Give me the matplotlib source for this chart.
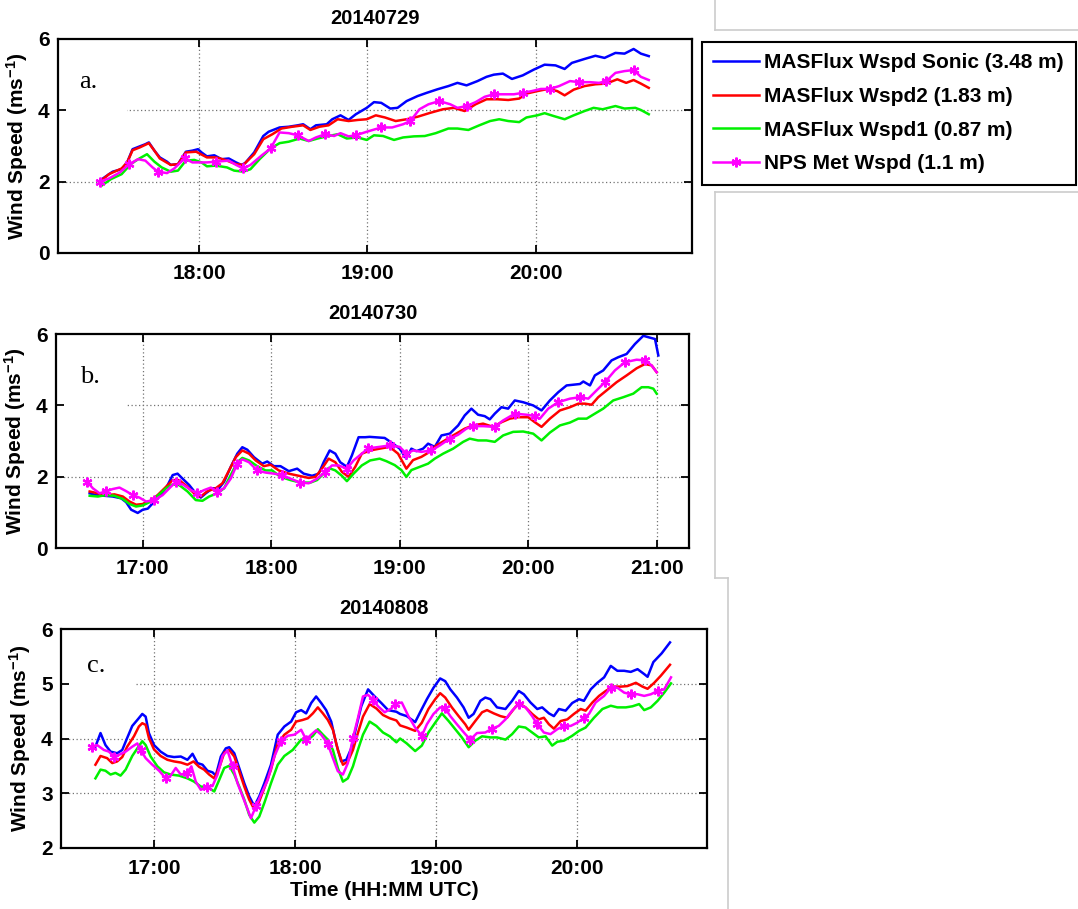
import numpy as np
import matplotlib
matplotlib.use('Agg')
import matplotlib.pyplot as plt
from matplotlib.lines import Line2D
from matplotlib.patches import Rectangle

plt.rcParams['font.family'] = ['Liberation Sans', 'DejaVu Sans']
plt.rcParams['font.weight'] = 'bold'
plt.rcParams['mathtext.fontset'] = 'custom'
plt.rcParams['mathtext.rm'] = 'Liberation Sans:bold'
plt.rcParams['mathtext.default'] = 'rm'

# ---------------- data (time in decimal hours UTC, wind speed m/s) ----------------
titles = ['20140729', '20140730', '20140808']
panel_tags = ['a.', 'b.', 'c.']
series_labels = ['MASFlux Wspd Sonic (3.48 m)', 'MASFlux Wspd2 (1.83 m)',
                 'MASFlux Wspd1 (0.87 m)', 'NPS Met Wspd (1.1 m)']

# Panel a: 20140729
a_sonic_t = [17.411,17.465,17.487,17.540,17.573,17.605,17.648,17.681,17.702,17.735,17.767,17.810,17.832,17.875,17.922,17.961,17.994,18.015,18.047,18.091,18.134,18.177,18.220,18.252,18.274,18.328,18.382,18.414,18.479,18.533,18.587,18.619,18.662,18.695,18.759,18.792,18.841,18.889,18.932,18.997,19.040,19.083,19.137,19.180,19.234,19.299,19.353,19.417,19.482,19.536,19.590,19.655,19.709,19.752,19.806,19.860,19.924,19.989,20.054,20.119,20.173,20.216,20.291,20.356,20.410,20.475,20.529,20.583,20.626,20.673]
a_sonic_v = [2.03,2.21,2.28,2.35,2.54,2.91,2.99,3.05,3.10,2.87,2.68,2.56,2.47,2.49,2.84,2.87,2.91,2.82,2.71,2.74,2.63,2.65,2.54,2.47,2.52,2.82,3.28,3.40,3.52,3.54,3.58,3.61,3.47,3.58,3.61,3.75,3.86,3.73,3.89,4.07,4.23,4.21,4.05,4.07,4.26,4.40,4.49,4.59,4.68,4.77,4.70,4.82,4.94,5.00,5.03,4.88,4.98,5.14,5.28,5.26,5.16,5.33,5.44,5.53,5.47,5.61,5.59,5.72,5.59,5.52]
a_w2_t = [17.411,17.465,17.540,17.573,17.605,17.648,17.702,17.735,17.767,17.832,17.875,17.922,17.983,18.047,18.101,18.155,18.220,18.263,18.328,18.382,18.436,18.490,18.554,18.619,18.662,18.716,18.770,18.824,18.889,18.943,18.997,19.051,19.105,19.169,19.234,19.299,19.374,19.450,19.515,19.579,19.644,19.709,19.773,19.838,19.903,19.946,20.011,20.075,20.129,20.173,20.227,20.291,20.356,20.421,20.486,20.539,20.583,20.626,20.673]
a_w2_v = [2.00,2.21,2.37,2.54,2.88,2.96,3.08,2.87,2.65,2.47,2.49,2.82,2.84,2.68,2.68,2.61,2.49,2.47,2.77,3.19,3.33,3.49,3.54,3.58,3.45,3.54,3.58,3.75,3.70,3.73,3.75,3.86,3.80,3.70,3.75,3.82,3.93,4.03,4.07,3.98,4.17,4.31,4.31,4.29,4.33,4.47,4.54,4.60,4.54,4.42,4.58,4.68,4.73,4.75,4.87,4.77,4.85,4.75,4.63]
a_w1_t = [17.422,17.476,17.540,17.594,17.638,17.691,17.735,17.778,17.832,17.875,17.922,17.972,18.015,18.047,18.101,18.166,18.209,18.263,18.306,18.360,18.425,18.479,18.533,18.598,18.652,18.705,18.759,18.824,18.878,18.943,18.997,19.040,19.094,19.159,19.213,19.277,19.342,19.407,19.482,19.536,19.601,19.666,19.730,19.784,19.838,19.903,19.946,20.011,20.054,20.108,20.173,20.227,20.291,20.345,20.399,20.475,20.529,20.593,20.626,20.673]
a_w1_v = [1.89,2.07,2.21,2.49,2.63,2.77,2.56,2.40,2.28,2.31,2.59,2.61,2.54,2.43,2.45,2.40,2.31,2.28,2.35,2.63,2.93,3.08,3.12,3.21,3.14,3.21,3.27,3.33,3.21,3.24,3.17,3.30,3.28,3.17,3.24,3.27,3.28,3.36,3.49,3.49,3.45,3.58,3.70,3.75,3.70,3.67,3.80,3.86,3.92,3.84,3.75,3.86,3.98,4.07,4.03,4.12,4.05,4.07,4.01,3.89]
a_nps_t = [17.411,17.465,17.530,17.584,17.638,17.681,17.724,17.756,17.810,17.853,17.914,17.961,18.004,18.047,18.101,18.177,18.220,18.263,18.306,18.371,18.425,18.479,18.533,18.587,18.652,18.695,18.749,18.803,18.841,18.889,18.932,18.997,19.083,19.148,19.213,19.256,19.310,19.364,19.428,19.493,19.536,19.590,19.644,19.698,19.752,19.817,19.871,19.924,19.978,20.032,20.086,20.140,20.205,20.259,20.324,20.378,20.421,20.475,20.529,20.583,20.626,20.673]
a_nps_v = [2.00,2.09,2.26,2.49,2.63,2.59,2.40,2.28,2.24,2.37,2.65,2.54,2.54,2.54,2.56,2.59,2.47,2.37,2.47,2.73,2.93,3.38,3.36,3.30,3.14,3.24,3.33,3.28,3.36,3.27,3.30,3.40,3.52,3.52,3.61,3.70,4.03,4.17,4.26,4.17,4.07,4.12,4.23,4.38,4.45,4.45,4.45,4.49,4.54,4.60,4.60,4.68,4.82,4.79,4.79,4.77,4.82,5.05,5.10,5.13,4.94,4.85]

# Panel b: 20140730
b_sonic_t = [16.587,16.638,16.703,16.767,16.832,16.871,16.910,16.961,17.000,17.039,17.078,17.142,17.194,17.233,17.271,17.310,17.362,17.413,17.452,17.491,17.543,17.594,17.633,17.685,17.736,17.775,17.814,17.866,17.930,17.969,18.021,18.072,18.137,18.202,18.253,18.318,18.370,18.408,18.455,18.499,18.537,18.589,18.628,18.680,18.731,18.766,18.883,18.948,19.000,19.052,19.091,19.130,19.182,19.221,19.273,19.325,19.390,19.455,19.506,19.558,19.610,19.662,19.701,19.740,19.792,19.844,19.896,19.961,20.039,20.104,20.169,20.234,20.299,20.351,20.403,20.429,20.481,20.519,20.584,20.649,20.701,20.766,20.831,20.896,20.935,20.987,21.013]
b_sonic_v = [1.54,1.49,1.47,1.45,1.40,1.29,1.08,0.99,1.08,1.11,1.26,1.49,1.77,2.05,2.09,1.95,1.77,1.54,1.42,1.54,1.68,1.68,1.86,2.28,2.65,2.83,2.76,2.55,2.37,2.43,2.30,2.30,2.16,2.23,2.09,2.03,2.09,2.41,2.74,2.65,2.41,2.28,2.60,3.11,3.11,3.12,3.09,2.93,2.79,2.51,2.79,2.72,2.79,2.93,2.84,3.16,3.21,3.44,3.72,3.91,3.74,3.70,3.61,3.77,3.95,3.91,4.14,4.09,4.00,3.86,4.14,4.37,4.56,4.58,4.60,4.67,4.56,4.84,4.98,5.26,5.35,5.44,5.72,5.95,5.91,5.86,5.40]
b_w2_t = [16.587,16.651,16.716,16.780,16.845,16.897,16.948,17.000,17.052,17.116,17.181,17.233,17.284,17.349,17.413,17.452,17.504,17.568,17.620,17.672,17.724,17.775,17.827,17.879,17.943,17.995,18.059,18.137,18.214,18.292,18.344,18.395,18.447,18.499,18.550,18.602,18.654,18.705,18.770,18.844,18.922,18.987,19.052,19.104,19.169,19.234,19.286,19.351,19.416,19.506,19.571,19.649,19.727,19.792,19.857,19.922,20.000,20.052,20.104,20.169,20.247,20.325,20.390,20.442,20.494,20.545,20.610,20.688,20.766,20.844,20.909,20.961,21.000]
b_w2_v = [1.59,1.54,1.49,1.51,1.45,1.31,1.22,1.24,1.31,1.49,1.72,1.91,1.91,1.72,1.49,1.45,1.60,1.68,1.82,2.18,2.55,2.74,2.65,2.46,2.30,2.34,2.18,2.09,2.03,1.97,2.00,2.23,2.51,2.41,2.14,2.00,2.28,2.65,2.74,2.79,2.84,2.65,2.23,2.47,2.56,2.70,2.88,3.02,3.16,3.35,3.44,3.49,3.40,3.53,3.63,3.67,3.67,3.53,3.40,3.63,3.86,3.95,4.05,4.05,4.02,4.23,4.42,4.65,4.84,5.04,5.16,5.12,4.93]
b_w1_t = [16.587,16.651,16.716,16.780,16.845,16.897,16.948,17.000,17.052,17.116,17.181,17.233,17.284,17.349,17.413,17.465,17.517,17.581,17.633,17.685,17.736,17.775,17.827,17.891,17.956,18.008,18.072,18.150,18.227,18.305,18.357,18.408,18.447,18.499,18.550,18.589,18.641,18.705,18.770,18.844,18.896,18.961,19.013,19.052,19.091,19.156,19.221,19.273,19.338,19.416,19.494,19.545,19.610,19.675,19.740,19.805,19.883,19.961,20.039,20.104,20.169,20.247,20.325,20.390,20.455,20.519,20.584,20.662,20.740,20.818,20.883,20.935,20.974,21.000]
b_w1_v = [1.47,1.45,1.49,1.47,1.38,1.24,1.17,1.20,1.29,1.47,1.68,1.79,1.77,1.59,1.35,1.33,1.45,1.54,1.68,2.05,2.41,2.53,2.46,2.30,2.18,2.18,2.00,1.91,1.84,1.84,1.91,2.09,2.25,2.18,2.03,1.88,2.09,2.32,2.46,2.51,2.44,2.33,2.19,2.00,2.19,2.28,2.37,2.51,2.65,2.79,2.98,3.07,3.02,3.02,2.98,3.16,3.26,3.27,3.21,3.02,3.24,3.44,3.52,3.63,3.63,3.77,3.91,4.14,4.23,4.33,4.51,4.51,4.47,4.33]
b_nps_t = [16.568,16.612,16.664,16.716,16.767,16.819,16.871,16.922,16.974,17.026,17.090,17.155,17.207,17.258,17.310,17.375,17.426,17.478,17.530,17.581,17.633,17.685,17.736,17.775,17.827,17.891,17.956,18.021,18.085,18.150,18.227,18.292,18.357,18.421,18.473,18.525,18.589,18.641,18.705,18.757,18.844,18.922,19.000,19.052,19.104,19.169,19.247,19.312,19.390,19.455,19.519,19.571,19.649,19.740,19.805,19.896,19.987,20.052,20.091,20.156,20.234,20.325,20.403,20.468,20.532,20.597,20.675,20.753,20.844,20.909,20.961,21.000]
b_nps_v = [1.86,1.68,1.54,1.60,1.66,1.70,1.60,1.49,1.42,1.31,1.35,1.49,1.68,1.86,1.79,1.63,1.54,1.63,1.70,1.59,1.68,1.95,2.37,2.49,2.41,2.18,2.12,2.09,2.05,1.95,1.84,1.82,1.95,2.14,2.32,2.32,2.23,2.46,2.65,2.80,2.84,2.88,2.84,2.65,2.74,2.70,2.74,2.88,3.07,3.18,3.35,3.42,3.42,3.40,3.58,3.77,3.74,3.70,3.63,3.91,4.09,4.19,4.23,4.19,4.42,4.65,4.98,5.21,5.28,5.26,5.12,4.93]

# Panel c: 20140808
c_sonic_t = [16.585,16.621,16.656,16.692,16.739,16.775,16.810,16.846,16.882,16.917,16.941,16.964,17.000,17.047,17.095,17.142,17.190,17.237,17.273,17.308,17.344,17.379,17.415,17.438,17.474,17.509,17.533,17.569,17.604,17.640,17.675,17.711,17.746,17.782,17.829,17.877,17.924,17.972,18.007,18.043,18.078,18.114,18.149,18.185,18.220,18.256,18.291,18.327,18.363,18.398,18.434,18.469,18.517,18.564,18.611,18.659,18.718,18.744,18.791,18.851,18.886,18.934,18.981,19.028,19.064,19.100,19.147,19.194,19.230,19.265,19.313,19.348,19.384,19.431,19.491,19.538,19.585,19.621,19.668,19.716,19.751,19.799,19.834,19.870,19.917,19.964,20.012,20.047,20.095,20.142,20.190,20.237,20.284,20.332,20.379,20.427,20.474,20.498,20.539,20.598,20.657]
c_sonic_v = [3.85,4.10,3.88,3.76,3.73,3.79,4.01,4.23,4.34,4.45,4.40,4.10,3.88,3.76,3.68,3.66,3.67,3.61,3.72,3.55,3.52,3.41,3.38,3.32,3.67,3.82,3.84,3.73,3.46,3.18,2.94,2.76,2.94,3.18,3.52,4.07,4.22,4.31,4.48,4.52,4.46,4.65,4.77,4.65,4.52,4.31,3.91,3.58,3.61,3.82,4.22,4.59,4.90,4.77,4.65,4.52,4.49,4.45,4.41,4.30,4.48,4.72,4.93,5.10,5.05,4.90,4.75,4.57,4.38,4.45,4.69,4.75,4.72,4.57,4.54,4.69,4.87,4.81,4.66,4.54,4.57,4.46,4.41,4.54,4.51,4.65,4.72,4.69,4.90,5.02,5.12,5.33,5.24,5.24,5.22,5.27,5.18,5.13,5.40,5.56,5.76]
c_w2_t = [16.585,16.621,16.668,16.704,16.739,16.775,16.810,16.858,16.893,16.917,16.941,16.964,17.000,17.047,17.095,17.142,17.190,17.237,17.280,17.320,17.355,17.391,17.427,17.462,17.498,17.533,17.569,17.604,17.640,17.675,17.711,17.746,17.782,17.829,17.877,17.924,17.972,18.007,18.054,18.090,18.126,18.161,18.197,18.232,18.268,18.303,18.339,18.374,18.410,18.445,18.481,18.528,18.576,18.623,18.671,18.718,18.744,18.791,18.851,18.898,18.945,18.993,19.028,19.064,19.111,19.159,19.206,19.230,19.277,19.325,19.360,19.408,19.455,19.502,19.550,19.585,19.633,19.680,19.727,19.763,19.799,19.834,19.882,19.929,19.976,20.024,20.059,20.107,20.154,20.201,20.249,20.308,20.355,20.415,20.462,20.498,20.545,20.592,20.657]
c_w2_v = [3.52,3.68,3.64,3.55,3.58,3.66,3.85,4.04,4.22,4.28,4.25,4.01,3.80,3.68,3.61,3.58,3.56,3.52,3.58,3.48,3.43,3.34,3.27,3.46,3.74,3.79,3.67,3.40,3.12,2.88,2.70,2.85,3.09,3.43,3.91,4.07,4.16,4.31,4.34,4.37,4.46,4.57,4.46,4.34,4.16,3.79,3.52,3.58,3.79,4.10,4.40,4.63,4.55,4.43,4.37,4.33,4.24,4.20,4.14,4.29,4.54,4.72,4.83,4.75,4.57,4.41,4.26,4.16,4.32,4.48,4.52,4.46,4.41,4.38,4.54,4.65,4.57,4.45,4.35,4.38,4.26,4.18,4.32,4.35,4.45,4.54,4.51,4.66,4.78,4.87,4.95,4.95,4.96,5.02,4.95,4.91,5.02,5.15,5.35]
c_w1_t = [16.585,16.621,16.656,16.692,16.727,16.763,16.799,16.846,16.882,16.917,16.941,16.976,17.024,17.071,17.118,17.178,17.237,17.284,17.332,17.379,17.427,17.462,17.498,17.533,17.569,17.604,17.640,17.675,17.711,17.746,17.782,17.829,17.877,17.924,17.983,18.043,18.090,18.126,18.161,18.197,18.232,18.268,18.303,18.339,18.374,18.410,18.445,18.481,18.528,18.576,18.623,18.671,18.718,18.744,18.791,18.851,18.898,18.945,18.993,19.040,19.088,19.135,19.182,19.230,19.277,19.325,19.384,19.431,19.491,19.538,19.585,19.633,19.680,19.727,19.775,19.822,19.858,19.905,19.964,20.012,20.059,20.118,20.178,20.237,20.284,20.344,20.391,20.438,20.474,20.521,20.569,20.616,20.664]
c_w1_v = [3.27,3.43,3.41,3.34,3.37,3.32,3.43,3.68,3.82,3.95,3.88,3.67,3.49,3.38,3.34,3.32,3.27,3.21,3.12,3.11,3.03,3.24,3.46,3.50,3.34,3.12,2.88,2.60,2.46,2.57,2.82,3.18,3.52,3.68,3.79,3.98,3.98,4.05,4.17,4.07,3.98,3.79,3.46,3.21,3.27,3.49,3.79,4.07,4.31,4.23,4.11,4.04,3.93,4.00,3.91,3.77,3.87,4.11,4.29,4.46,4.32,4.17,4.02,3.84,3.96,4.04,4.02,4.02,3.98,4.08,4.22,4.20,4.11,4.02,4.04,3.87,3.94,3.96,4.05,4.14,4.20,4.38,4.54,4.60,4.57,4.57,4.59,4.63,4.52,4.57,4.69,4.84,5.01]
c_nps_t = [16.562,16.597,16.645,16.680,16.716,16.751,16.799,16.846,16.882,16.905,16.941,16.988,17.036,17.083,17.118,17.154,17.190,17.237,17.265,17.296,17.332,17.379,17.415,17.450,17.486,17.521,17.557,17.592,17.628,17.664,17.687,17.723,17.758,17.806,17.853,17.900,17.948,17.995,18.043,18.078,18.114,18.149,18.185,18.232,18.268,18.303,18.339,18.374,18.410,18.445,18.481,18.517,18.552,18.588,18.635,18.682,18.709,18.756,18.803,18.851,18.898,18.934,18.981,19.028,19.064,19.100,19.147,19.206,19.242,19.289,19.348,19.396,19.443,19.491,19.538,19.585,19.633,19.680,19.716,19.763,19.810,19.858,19.905,19.953,20.000,20.047,20.083,20.130,20.190,20.237,20.284,20.332,20.379,20.427,20.474,20.521,20.569,20.616,20.664]
c_nps_v = [3.85,3.88,3.79,3.76,3.67,3.70,3.76,3.85,3.91,3.79,3.64,3.52,3.41,3.27,3.32,3.46,3.34,3.37,3.49,3.21,3.06,3.12,3.13,3.34,3.68,3.78,3.49,3.18,2.94,2.70,2.54,2.76,2.97,3.24,3.67,3.95,4.05,4.07,4.16,3.98,4.07,4.15,4.07,3.90,3.64,3.40,3.34,3.55,4.01,4.37,4.77,4.80,4.71,4.59,4.48,4.55,4.63,4.66,4.41,4.20,4.05,4.26,4.45,4.57,4.55,4.41,4.26,4.08,3.98,4.10,4.11,4.18,4.23,4.35,4.51,4.63,4.57,4.41,4.26,4.11,4.08,4.17,4.23,4.23,4.29,4.38,4.45,4.66,4.78,4.93,4.93,4.84,4.81,4.81,4.78,4.81,4.87,4.90,5.12]

panels = [
    dict(s=(a_sonic_t, a_sonic_v), w2=(a_w2_t, a_w2_v), w1=(a_w1_t, a_w1_v), nps=(a_nps_t, a_nps_v),
         xlim=(17.162, 20.927), ylim=(0, 6), yticks=[0, 2, 4, 6], xticks=[18, 19, 20],
         box=(58, 39, 691.5, 253), tagpos=(0.033, 0.80), cover=(0.109, 0.50)),
    dict(s=(b_sonic_t, b_sonic_v), w2=(b_w2_t, b_w2_v), w1=(b_w1_t, b_w1_v), nps=(b_nps_t, b_nps_v),
         xlim=(16.325, 21.254), ylim=(0, 6), yticks=[0, 2, 4, 6], xticks=[17, 18, 19, 20, 21],
         box=(56, 334, 689.3, 548.3), tagpos=(0.038, 0.80), cover=(0.112, 0.50)),
    dict(s=(c_sonic_t, c_sonic_v), w2=(c_w2_t, c_w2_v), w1=(c_w1_t, c_w1_v), nps=(c_nps_t, c_nps_v),
         xlim=(16.341, 20.917), ylim=(2, 6), yticks=[2, 3, 4, 5, 6], xticks=[17, 18, 19, 20],
         box=(61, 629.3, 706.7, 847.7), tagpos=(0.040, 0.83), cover=(0.115, 0.60)),
]

colors = ['#0000ff', '#ff0000', '#00f000', '#ff00ff']
W, H = 1078, 909
fig = plt.figure(figsize=(W / 100, H / 100), dpi=100)

handles = None
for i, p in enumerate(panels):
    l, t, r, b = p['box']
    ax = fig.add_axes([l / W, 1 - b / H, (r - l) / W, (b - t) / H])
    ax.set_xlim(*p['xlim'])
    ax.set_ylim(*p['ylim'])
    ax.set_xticks(p['xticks'])
    ax.set_xticklabels(['%02d:00' % h for h in p['xticks']])
    ax.set_yticks(p['yticks'])
    # dotted grid
    for y in p['yticks']:
        if p['ylim'][0] < y < p['ylim'][1]:
            ax.axhline(y, color='0.45', ls=(0, (1, 2)), lw=0.9, zorder=0.5)
    for x in p['xticks']:
        if p['xlim'][0] < x < p['xlim'][1]:
            ax.axvline(x, color='0.45', ls=(0, (1, 2)), lw=0.9, zorder=0.5)
    # white label box (covers grid as in original)
    ax.add_patch(Rectangle((0, p['cover'][1]), p['cover'][0], 0.97 - p['cover'][1],
                           transform=ax.transAxes, facecolor='white', edgecolor='none', zorder=1))
    hs = []
    for key, c in zip(['s', 'w2', 'w1'], colors[:3]):
        tt, vv = p[key]
        hs.append(ax.plot(tt, vv, color=c, lw=1.8, zorder=2)[0])
    tt, vv = np.array(p['nps'][0]), np.array(p['nps'][1])
    marks = np.arange(tt[0], tt[-1] + 1e-6, 1 / 6)
    idx = sorted(set(int(np.argmin(np.abs(tt - m))) for m in marks))
    hs.append(ax.plot(tt, vv, color=colors[3], lw=1.8, marker=(6, 2, 0), ms=7, mew=1.6,
                      markevery=idx, zorder=3)[0])
    if handles is None:
        handles = hs
    ax.set_title(titles[i], fontsize=14.5, fontweight='bold', pad=11)
    ax.set_ylabel('Wind Speed (ms$^{-1}$)', fontsize=15, fontweight='bold', labelpad=6)
    ax.text(p['tagpos'][0], p['tagpos'][1], panel_tags[i], transform=ax.transAxes,
            family='Liberation Serif', fontweight='normal', fontsize=19, va='center', ha='left', zorder=4)
    ax.tick_params(direction='in', top=True, right=True, length=6, width=1.3, labelsize=15, pad=6)
    ax.tick_params(axis='x', pad=8)
    for sp in ax.spines.values():
        sp.set_linewidth(1.6)
    if i == 2:
        ax.set_xlabel('Time (HH:MM UTC)', fontsize=15, fontweight='bold', labelpad=2)

leg = fig.legend(handles, series_labels, loc='upper left', bbox_to_anchor=(702 / W, 1 - 42 / H),
                 fontsize=15, handlelength=2.2, handletextpad=0.25, labelspacing=0.7,
                 borderpad=0.55, borderaxespad=0, fancybox=False, edgecolor='black', framealpha=1)
leg.get_frame().set_linewidth(1.5)

# faint frame remnants on the right side of the original figure
gray = '#cccccc'
for (x1, y1, x2, y2) in [(715, 0, 715, 30), (715, 30, 1078, 30), (715, 192, 1078, 192),
                         (715, 192, 715, 578), (715, 578, 728, 578), (728, 578, 728, 909)]:
    fig.add_artist(Line2D([x1 / W, x2 / W], [1 - y1 / H, 1 - y2 / H], transform=fig.transFigure,
                          color=gray, lw=1.2))

fig.savefig('out.png', dpi=100)
